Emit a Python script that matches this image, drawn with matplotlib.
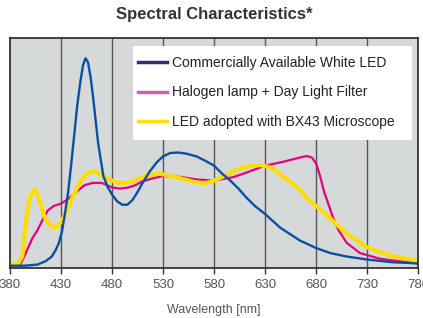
import matplotlib
matplotlib.use("Agg")
import matplotlib.pyplot as plt
from matplotlib.lines import Line2D
from matplotlib.patches import Rectangle

plt.rcParams['font.family'] = ['Liberation Sans', 'DejaVu Sans']

# wavelength (nm) / relative intensity
wl_white = [380, 395, 407, 415, 421, 425, 428, 431, 434, 437, 440, 443, 446, 449,
            451.5, 454, 456.5, 459, 461, 463, 466.5, 471.5, 476, 480, 485, 490, 495,
            500, 505, 510, 517, 524, 530, 537, 545, 553, 563, 572, 580, 588, 596, 604,
            612, 620, 630, 645, 664, 680, 694, 710, 730, 755, 780]
val_white = [0.01, 0.01, 0.015, 0.03, 0.05, 0.08, 0.11, 0.16, 0.24, 0.33, 0.45, 0.58,
             0.71, 0.81, 0.88, 0.912, 0.895, 0.83, 0.76, 0.68, 0.54, 0.40, 0.35, 0.32,
             0.29, 0.275, 0.275, 0.295, 0.33, 0.37, 0.42, 0.46, 0.485, 0.50, 0.502,
             0.497, 0.485, 0.465, 0.445, 0.41, 0.38, 0.345, 0.305, 0.27, 0.235, 0.175,
             0.12, 0.087, 0.065, 0.05, 0.037, 0.025, 0.02]

wl_halogen = [380, 390, 394, 398, 402, 407, 412, 417, 423, 430, 437, 445, 453, 461,
              470, 480, 488, 496, 503, 509, 520, 530, 547, 563, 580, 599, 615, 630,
              648, 664, 671, 676, 680, 684, 688, 692, 697, 702, 710, 723, 743, 760, 780]
val_halogen = [0.017, 0.017, 0.05, 0.09, 0.13, 0.165, 0.21, 0.25, 0.27, 0.28, 0.30,
               0.33, 0.36, 0.37, 0.37, 0.35, 0.345, 0.35, 0.36, 0.375, 0.39, 0.40,
               0.396, 0.385, 0.38, 0.395, 0.42, 0.445, 0.462, 0.48, 0.487, 0.48, 0.455,
               0.40, 0.33, 0.28, 0.215, 0.165, 0.11, 0.065, 0.04, 0.03, 0.02]

wl_bx43 = [380, 388, 392, 396, 399, 402, 404.5, 408, 414, 419, 424, 430, 435, 440,
           447, 453, 458, 464, 471, 480, 486, 493, 500, 509, 518, 527, 537, 547, 560,
           566, 573, 580, 590, 599, 607, 615, 625, 633, 640, 648, 656, 664, 672, 680,
           694, 710, 730, 752, 780]
val_bx43 = [0.013, 0.02, 0.05, 0.21, 0.30, 0.335, 0.34, 0.31, 0.22, 0.185, 0.175, 0.20,
            0.24, 0.295, 0.36, 0.40, 0.415, 0.42, 0.40, 0.38, 0.37, 0.37, 0.375, 0.395,
            0.405, 0.41, 0.40, 0.39, 0.375, 0.37, 0.37, 0.38, 0.40, 0.42, 0.435, 0.443,
            0.448, 0.44, 0.425, 0.395, 0.37, 0.34, 0.30, 0.27, 0.215, 0.15, 0.09,
            0.055, 0.03]

labels = ["Commercially Available White LED",
          "Halogen lamp + Day Light Filter",
          "LED adopted with BX43 Microscope"]
xticks = list(range(380, 781, 50))

fig = plt.figure(figsize=(4.23, 3.18), dpi=100)
ax = fig.add_axes([10 / 423, 1 - 268 / 318, 408 / 423, 230 / 318])
ax.set_facecolor('#d5d9d9')

for x in xticks[1:-1]:
    ax.axvline(x, color='#555555', lw=1.0, zorder=1)

kw = dict(solid_joinstyle='round', solid_capstyle='round')
ax.plot(wl_halogen, val_halogen, color='#e6007e', lw=1.6, zorder=3, **kw)
ax.plot(wl_bx43, val_bx43, color='#ffdd00', lw=3.0, zorder=4, **kw)
ax.plot(wl_white, val_white, color='#0a50a0', lw=1.7, zorder=5, **kw)

ax.set_xlim(380, 780)
ax.set_ylim(0, 1)
ax.set_yticks([])
ax.set_xticks(xticks)
ax.tick_params(axis='x', direction='out', length=4, width=1, color='#333333',
               labelsize=9.5, labelcolor='#555555', pad=4)
for s in ax.spines.values():
    s.set_color('#333333')
    s.set_linewidth(1.3)
    s.set_zorder(7)

ax.set_xlabel("Wavelength [nm]", fontsize=9, color='#555555', labelpad=9)
fig.text(214 / 423, 1 - 15 / 318, "Spectral Characteristics*", ha='center', va='center',
         fontsize=12, fontweight='bold', color='#333333')

# legend: plain white box, entries placed inside
ax.add_patch(Rectangle((0.3015, 0.557), 0.6835, 0.408, transform=ax.transAxes,
                       facecolor='white', edgecolor='none', zorder=6))
handles = [Line2D([], [], color='#2e3066', lw=2.5),
           Line2D([], [], color='#d060a8', lw=2.5),
           Line2D([], [], color='#ffe200', lw=2.5)]
leg = ax.legend(handles, labels, loc='upper left', bbox_to_anchor=(0.3137, 0.922),
                fontsize=10, frameon=False, handlelength=2.1, handletextpad=0.35,
                labelspacing=1.12, borderpad=0, borderaxespad=0)
leg.set_zorder(8)
for t in leg.get_texts():
    t.set_color('#222222')

fig.savefig("out.png", dpi=100)
